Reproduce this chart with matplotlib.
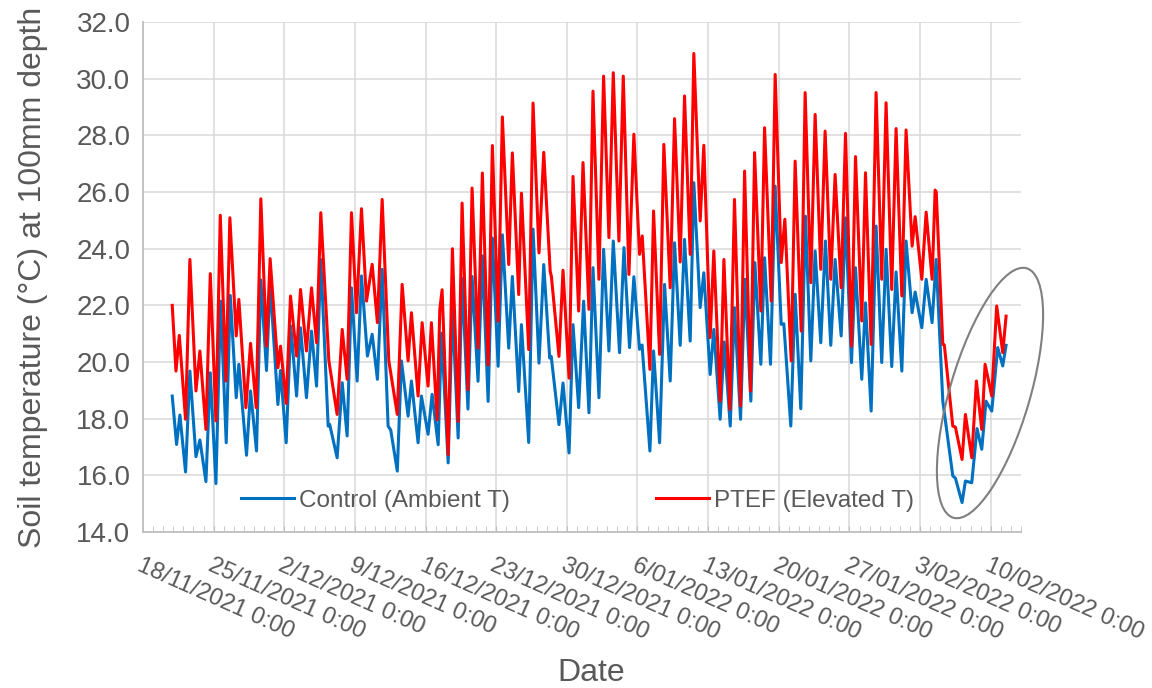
import numpy as np
import pandas as pd
import matplotlib
matplotlib.use("Agg")
import matplotlib.pyplot as plt
import matplotlib.dates as mdates
from matplotlib.patches import Ellipse

plt.rcParams['font.family'] = ['Liberation Sans', 'DejaVu Sans']

# readings (days after 18/11/2021 0:00) and soil temperature
start = pd.Timestamp('2021-11-18')

control_days = [2.9, 3.33, 3.66, 4.22, 4.65, 5.25, 5.64, 6.24, 6.67, 7.23, 7.69, 8.25, 8.65, 9.24, 9.5,
                10.26, 10.66, 11.25, 11.68, 12.24, 12.6, 13.37, 13.63, 14.19, 14.65, 15.22, 15.61, 16.2,
                16.7, 17.2, 17.62, 18.35, 18.5, 19.24, 19.74, 20.23, 20.66, 21.22, 21.65, 22.24, 22.71,
                23.23, 23.7, 24.29, 24.55, 25.2, 25.61, 26.27, 26.6, 27.26, 27.59, 28.25, 28.65, 29.25,
                29.58, 30.24, 30.66, 31.23, 31.62, 32.2, 32.61, 33.2, 33.63, 34.2, 34.62, 35.19, 35.61,
                36.24, 36.6, 37.23, 37.5, 38.22, 38.65, 39.24, 39.71, 40.3, 40.45, 41.22, 41.62, 42.22,
                42.61, 43.17, 43.66, 44.19, 44.59, 45.18, 45.64, 46.17, 46.6, 47.22, 47.66, 48.21, 48.64,
                49.2, 49.45, 50.23, 50.59, 51.19, 51.68, 52.24, 52.67, 53.23, 53.66, 54.22, 54.58, 55.21,
                55.57, 56.2, 56.56, 57.19, 57.59, 58.19, 58.61, 59.21, 59.64, 60.23, 60.63, 61.22, 61.59,
                62.18, 62.64, 63.24, 63.5, 64.19, 64.62, 65.18, 65.64, 66.17, 66.6, 67.16, 67.62, 68.15,
                68.58, 69.18, 69.61, 70.2, 70.6, 71.22, 71.59, 72.15, 72.64, 73.2, 73.63, 74.19, 74.62,
                75.19, 75.61, 76.21, 76.51, 77.17, 77.6, 78.19, 78.59, 79.25, 80.24, 80.5, 81.16, 81.49,
                82.12, 82.64, 83.11, 83.53, 84.1, 84.69, 85.19, 85.52]
control_temp = [18.8, 17.09, 18.13, 16.12, 19.68, 16.66, 17.25, 15.78, 19.62, 15.71, 22.15, 17.15, 22.35,
                18.74, 19.92, 16.71, 18.98, 16.86, 22.9, 19.7, 22.8, 18.5, 19.7, 17.15, 21.27, 18.8, 21.21,
                18.74, 21.09, 19.15, 23.62, 17.74, 17.8, 16.62, 19.27, 17.39, 22.62, 19.33, 23.04, 20.21,
                20.98, 19.39, 23.27, 17.74, 17.6, 16.15, 20.04, 18.09, 19.33, 17.15, 18.8, 17.45, 18.86,
                17.08, 21.02, 16.44, 21.9, 17.32, 22.96, 18.34, 23.02, 19.32, 23.75, 18.61, 24.38, 19.85,
                24.49, 20.49, 23.02, 18.96, 21.32, 17.16, 24.69, 19.96, 23.44, 20.14, 20.2, 17.79, 19.26,
                16.79, 21.32, 18.39, 22.15, 18.21, 23.33, 18.74, 23.98, 20.39, 24.27, 20.33, 24.04, 20.51,
                23.01, 20.45, 20.6, 16.86, 20.39, 17.15, 22.74, 19.33, 24.21, 20.59, 24.33, 20.74, 26.33,
                21.92, 23.15, 19.56, 21.15, 17.98, 20.71, 17.74, 21.92, 17.98, 22.92, 18.62, 23.51, 19.92,
                23.68, 19.92, 26.21, 21.33, 21.35, 17.74, 22.39, 18.35, 25.15, 20.04, 23.92, 20.68, 24.27,
                20.59, 23.62, 20.92, 25.09, 19.98, 23.33, 19.39, 22.09, 18.27, 24.8, 19.98, 23.98, 19.84,
                23.18, 19.68, 24.27, 21.74, 22.47, 21.21, 22.92, 21.39, 23.62, 18.62, 15.98, 15.9, 15.04,
                15.8, 15.74, 17.65, 16.92, 18.62, 18.27, 20.51, 19.86, 20.59]

ptef_days = [2.9, 3.27, 3.6, 4.22, 4.65, 5.25, 5.64, 6.24, 6.67, 7.23, 7.66, 8.22, 8.61, 9.24, 9.5,
             10.2, 10.66, 11.22, 11.68, 12.24, 12.6, 13.37, 13.63, 14.19, 14.62, 15.22, 15.61, 16.2,
             16.7, 17.2, 17.62, 18.42, 19.24, 19.74, 20.23, 20.66, 21.16, 21.65, 22.15, 22.71, 23.23,
             23.7, 24.36, 25.2, 25.68, 26.27, 26.6, 27.26, 27.66, 28.25, 28.58, 29.15, 29.41, 29.64,
             30.24, 30.66, 31.23, 31.62, 32.2, 32.61, 33.2, 33.63, 34.2, 34.62, 35.19, 35.61, 36.24,
             36.6, 37.23, 37.5, 38.22, 38.65, 39.24, 39.71, 40.35, 40.47, 41.22, 41.62, 42.22, 42.61,
             43.17, 43.6, 44.19, 44.59, 45.18, 45.64, 46.17, 46.6, 47.16, 47.59, 48.15, 48.64, 49.2,
             49.47, 50.23, 50.59, 51.19, 51.61, 52.24, 52.67, 53.23, 53.66, 54.22, 54.58, 55.21, 55.57,
             56.2, 56.56, 57.19, 57.56, 58.15, 58.61, 59.21, 59.61, 60.2, 60.6, 61.22, 61.59, 62.25,
             62.64, 63.24, 63.6, 64.23, 64.62, 65.22, 65.61, 66.17, 66.6, 67.16, 67.59, 68.15, 68.58,
             69.18, 69.61, 70.2, 70.6, 71.22, 71.59, 72.15, 72.64, 73.2, 73.63, 74.19, 74.62, 75.19,
             75.61, 76.21, 76.51, 77.17, 77.6, 78.19, 78.49, 78.6, 79.25, 79.4, 80.24, 80.5, 81.16,
             81.49, 82.12, 82.58, 83.11, 83.44, 84.1, 84.59, 85.19, 85.52]
ptef_temp = [22.0, 19.68, 20.94, 17.98, 23.62, 18.98, 20.39, 17.62, 23.12, 17.92, 25.18, 19.33, 25.09,
             20.92, 22.21, 18.39, 20.66, 18.39, 25.76, 20.56, 23.65, 19.8, 20.56, 18.54, 22.33, 20.21,
             22.56, 20.39, 22.62, 20.68, 25.27, 20.04, 18.15, 21.15, 19.39, 25.27, 21.74, 25.41, 22.15,
             23.45, 21.39, 25.74, 20.04, 18.15, 22.74, 20.04, 21.74, 18.8, 21.39, 19.15, 21.39, 17.96,
             21.85, 22.55, 16.73, 24.0, 17.9, 25.61, 19.02, 26.14, 20.49, 26.67, 19.9, 27.64, 21.44,
             28.65, 23.44, 27.38, 22.38, 25.96, 20.44, 29.14, 23.85, 27.4, 23.2, 23.02, 20.2, 23.24,
             19.43, 26.55, 21.8, 27.04, 21.86, 29.56, 22.92, 30.09, 24.39, 30.21, 24.27, 30.09, 23.09,
             28.04, 23.8, 24.45, 19.74, 25.33, 20.27, 27.68, 22.62, 28.59, 23.53, 29.39, 23.8, 30.89,
             24.98, 27.65, 20.86, 23.92, 18.62, 23.62, 18.33, 25.74, 18.45, 26.74, 18.98, 27.39, 21.8,
             28.27, 22.15, 30.15, 23.51, 25.04, 20.04, 27.09, 21.09, 29.51, 22.8, 28.74, 23.27, 28.15,
             22.92, 26.62, 22.62, 28.07, 20.56, 27.25, 21.45, 26.68, 20.62, 29.51, 22.92, 29.15, 22.56,
             28.24, 22.33, 28.19, 24.09, 25.13, 22.92, 25.29, 22.92, 26.07, 26.0, 20.62, 20.6, 17.74,
             17.7, 16.56, 18.15, 16.62, 19.33, 17.62, 19.92, 18.8, 21.98, 20.33, 21.62]

tick_dates = pd.date_range('2021-11-18', '2022-02-10', freq='7D')
tick_labels = ["18/11/2021 0:00", "25/11/2021 0:00", "2/12/2021 0:00", "9/12/2021 0:00",
               "16/12/2021 0:00", "23/12/2021 0:00", "30/12/2021 0:00", "6/01/2022 0:00",
               "13/01/2022 0:00", "20/01/2022 0:00", "27/01/2022 0:00", "3/02/2022 0:00",
               "10/02/2022 0:00"]
y_ticks = np.arange(14, 32.1, 2)

grey = '#595959'
control_t = start + pd.to_timedelta(control_days, unit='D')
ptef_t = start + pd.to_timedelta(ptef_days, unit='D')

fig = plt.figure(figsize=(11.52, 6.88), dpi=100)
ax = fig.add_axes([0.1241, 0.2267, 0.7622, 0.7413])

ax.plot(control_t, control_temp, color='#0070C0', lw=2.2, label='Control (Ambient T)')
ax.plot(ptef_t, ptef_temp, color='#FF0000', lw=2.2, label='PTEF (Elevated T)')

ax.set_xlim(pd.Timestamp('2021-11-18'), pd.Timestamp('2022-02-13'))
ax.set_ylim(14, 32)
ax.set_yticks(y_ticks)
ax.set_yticklabels([f"{v:.1f}" for v in y_ticks], fontsize=20, color=grey)
ax.set_xticks(tick_dates)
ax.set_xticklabels(tick_labels, fontsize=17, color=grey, rotation=-24,
                   ha='left', va='top', rotation_mode='anchor')
ax.xaxis.set_minor_locator(mdates.DayLocator())

ax.grid(True, which='major', color='#d9d9d9', lw=1.1)
ax.set_axisbelow(True)
for s in ['top', 'right']:
    ax.spines[s].set_visible(False)
for s in ['left', 'bottom']:
    ax.spines[s].set_color('#bfbfbf')
    ax.spines[s].set_linewidth(1.3)
ax.tick_params(axis='y', length=0, pad=9)
ax.tick_params(axis='x', which='both', direction='in', length=4, color='#bfbfbf', pad=16)

ax.set_ylabel('Soil temperature (°C) at 100mm depth', fontsize=23, color=grey)
ax.yaxis.set_label_coords(-0.108, 0.5)
ax.set_xlabel('Date', fontsize=23, color=grey)
ax.xaxis.set_label_coords(0.51, -0.247)

ax.legend(loc='center', bbox_to_anchor=(0.495, 0.061), ncol=2, frameon=False, fontsize=17.5,
          handlelength=2.2, handletextpad=0.2, columnspacing=6.0, labelcolor=grey)

# grey ellipse highlighting the February drop
ell = Ellipse((9.90, 2.95), 2.60, 0.80, angle=73.6, transform=fig.dpi_scale_trans,
              fill=False, edgecolor='#7f7f7f', lw=1.5)
fig.patches.append(ell)

fig.savefig('out.png', dpi=100)
